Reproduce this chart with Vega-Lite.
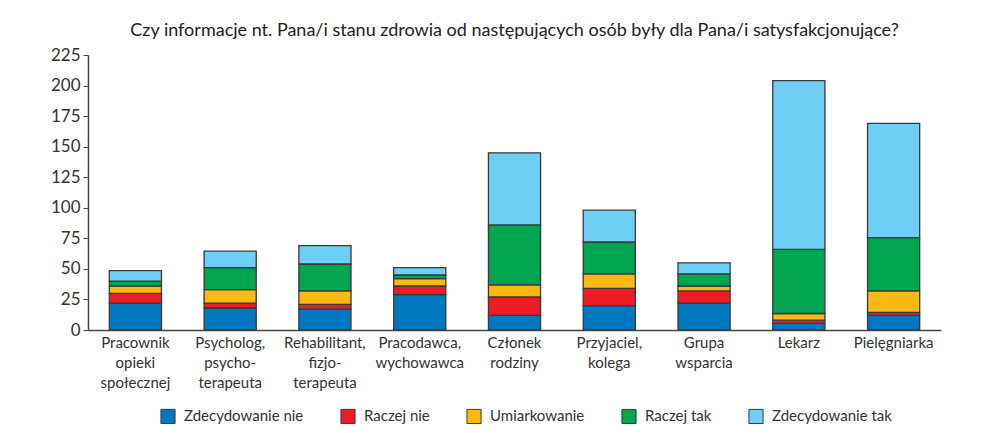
{
  "$schema": "https://vega.github.io/schema/vega-lite/v6.json",
  "autosize": "none",
  "width": 853,
  "height": 275,
  "padding": {"left": 88, "top": 55, "right": 42, "bottom": 103},
  "background": "white",
  "title": {
    "text": "Czy informacje nt. Pana/i stanu zdrowia od następujących osób były dla Pana/i satysfakcjonujące?",
    "font": "Lato",
    "fontSize": 18,
    "fontWeight": "normal",
    "color": "#222",
    "anchor": "middle",
    "offset": 6
  },
  "data": {
    "values": [
      {"kto": "Pracownik\nopieki\nspołecznej", "ocena": "Zdecydowanie nie", "k": 1, "n": 22},
      {"kto": "Pracownik\nopieki\nspołecznej", "ocena": "Raczej nie", "k": 2, "n": 8},
      {"kto": "Pracownik\nopieki\nspołecznej", "ocena": "Umiarkowanie", "k": 3, "n": 6},
      {"kto": "Pracownik\nopieki\nspołecznej", "ocena": "Raczej tak", "k": 4, "n": 4},
      {"kto": "Pracownik\nopieki\nspołecznej", "ocena": "Zdecydowanie tak", "k": 5, "n": 8.5},
      {"kto": "Psycholog,\npsycho-\nterapeuta", "ocena": "Zdecydowanie nie", "k": 1, "n": 18},
      {"kto": "Psycholog,\npsycho-\nterapeuta", "ocena": "Raczej nie", "k": 2, "n": 4},
      {"kto": "Psycholog,\npsycho-\nterapeuta", "ocena": "Umiarkowanie", "k": 3, "n": 11},
      {"kto": "Psycholog,\npsycho-\nterapeuta", "ocena": "Raczej tak", "k": 4, "n": 18},
      {"kto": "Psycholog,\npsycho-\nterapeuta", "ocena": "Zdecydowanie tak", "k": 5, "n": 13.5},
      {"kto": "Rehabilitant,\nfizjo-\nterapeuta", "ocena": "Zdecydowanie nie", "k": 1, "n": 17},
      {"kto": "Rehabilitant,\nfizjo-\nterapeuta", "ocena": "Raczej nie", "k": 2, "n": 4},
      {"kto": "Rehabilitant,\nfizjo-\nterapeuta", "ocena": "Umiarkowanie", "k": 3, "n": 11},
      {"kto": "Rehabilitant,\nfizjo-\nterapeuta", "ocena": "Raczej tak", "k": 4, "n": 22},
      {"kto": "Rehabilitant,\nfizjo-\nterapeuta", "ocena": "Zdecydowanie tak", "k": 5, "n": 15},
      {"kto": "Pracodawca,\nwychowawca", "ocena": "Zdecydowanie nie", "k": 1, "n": 29},
      {"kto": "Pracodawca,\nwychowawca", "ocena": "Raczej nie", "k": 2, "n": 7},
      {"kto": "Pracodawca,\nwychowawca", "ocena": "Umiarkowanie", "k": 3, "n": 6},
      {"kto": "Pracodawca,\nwychowawca", "ocena": "Raczej tak", "k": 4, "n": 3},
      {"kto": "Pracodawca,\nwychowawca", "ocena": "Zdecydowanie tak", "k": 5, "n": 6},
      {"kto": "Członek\nrodziny", "ocena": "Zdecydowanie nie", "k": 1, "n": 12},
      {"kto": "Członek\nrodziny", "ocena": "Raczej nie", "k": 2, "n": 15},
      {"kto": "Członek\nrodziny", "ocena": "Umiarkowanie", "k": 3, "n": 10},
      {"kto": "Członek\nrodziny", "ocena": "Raczej tak", "k": 4, "n": 49},
      {"kto": "Członek\nrodziny", "ocena": "Zdecydowanie tak", "k": 5, "n": 59},
      {"kto": "Przyjaciel,\nkolega", "ocena": "Zdecydowanie nie", "k": 1, "n": 20},
      {"kto": "Przyjaciel,\nkolega", "ocena": "Raczej nie", "k": 2, "n": 14},
      {"kto": "Przyjaciel,\nkolega", "ocena": "Umiarkowanie", "k": 3, "n": 12},
      {"kto": "Przyjaciel,\nkolega", "ocena": "Raczej tak", "k": 4, "n": 26},
      {"kto": "Przyjaciel,\nkolega", "ocena": "Zdecydowanie tak", "k": 5, "n": 26},
      {"kto": "Grupa\nwsparcia", "ocena": "Zdecydowanie nie", "k": 1, "n": 22},
      {"kto": "Grupa\nwsparcia", "ocena": "Raczej nie", "k": 2, "n": 10},
      {"kto": "Grupa\nwsparcia", "ocena": "Umiarkowanie", "k": 3, "n": 4},
      {"kto": "Grupa\nwsparcia", "ocena": "Raczej tak", "k": 4, "n": 10},
      {"kto": "Grupa\nwsparcia", "ocena": "Zdecydowanie tak", "k": 5, "n": 9},
      {"kto": "Lekarz", "ocena": "Zdecydowanie nie", "k": 1, "n": 5.5},
      {"kto": "Lekarz", "ocena": "Raczej nie", "k": 2, "n": 2.5},
      {"kto": "Lekarz", "ocena": "Umiarkowanie", "k": 3, "n": 5.5},
      {"kto": "Lekarz", "ocena": "Raczej tak", "k": 4, "n": 52.5},
      {"kto": "Lekarz", "ocena": "Zdecydowanie tak", "k": 5, "n": 138},
      {"kto": "Pielęgniarka", "ocena": "Zdecydowanie nie", "k": 1, "n": 12},
      {"kto": "Pielęgniarka", "ocena": "Raczej nie", "k": 2, "n": 2.5},
      {"kto": "Pielęgniarka", "ocena": "Umiarkowanie", "k": 3, "n": 17.5},
      {"kto": "Pielęgniarka", "ocena": "Raczej tak", "k": 4, "n": 43.5},
      {"kto": "Pielęgniarka", "ocena": "Zdecydowanie tak", "k": 5, "n": 93.5}
    ]
  },
  "mark": {"type": "bar", "stroke": "#3a3a3a", "strokeWidth": 1.3},
  "encoding": {
    "x": {
      "field": "kto",
      "type": "nominal",
      "sort": null,
      "scale": {"paddingInner": 0.45, "paddingOuter": 0.225},
      "axis": {
        "title": null,
        "labelAngle": 0,
        "labelExpr": "split(datum.label, '\\n')",
        "labelLineHeight": 20,
        "labelFont": "Lato",
        "labelFontSize": 15,
        "labelColor": "#333",
        "labelPadding": 5,
        "ticks": false,
        "domainColor": "#444",
        "domainWidth": 1.5
      }
    },
    "y": {
      "field": "n",
      "type": "quantitative",
      "stack": "zero",
      "scale": {"domain": [0, 225], "nice": false},
      "axis": {
        "title": null,
        "values": [0, 25, 50, 75, 100, 125, 150, 175, 200, 225],
        "grid": false,
        "labelFont": "Lato",
        "labelFontSize": 17,
        "labelColor": "#333",
        "tickSize": 5,
        "tickColor": "#444",
        "domainColor": "#444",
        "domainWidth": 1.5,
        "labelPadding": 3
      }
    },
    "color": {
      "field": "ocena",
      "type": "nominal",
      "sort": ["Zdecydowanie nie", "Raczej nie", "Umiarkowanie", "Raczej tak", "Zdecydowanie tak"],
      "scale": {
        "domain": ["Zdecydowanie nie", "Raczej nie", "Umiarkowanie", "Raczej tak", "Zdecydowanie tak"],
        "range": ["#0079c1", "#ed1c24", "#fdb913", "#00a54f", "#6dcff6"]
      },
      "legend": {
        "title": null,
        "orient": "none",
        "direction": "horizontal",
        "legendX": 72,
        "legendY": 353,
        "symbolType": "square",
        "symbolSize": 200,
        "symbolStrokeColor": "#3a3a3a",
        "symbolStrokeWidth": 1,
        "symbolOpacity": 1,
        "labelFont": "Lato",
        "labelFontSize": 15,
        "labelColor": "#333",
        "labelOffset": 8,
        "columnPadding": 34
      }
    },
    "order": {"field": "k", "type": "quantitative", "sort": "ascending"}
  },
  "config": {"view": {"stroke": null}}
}
